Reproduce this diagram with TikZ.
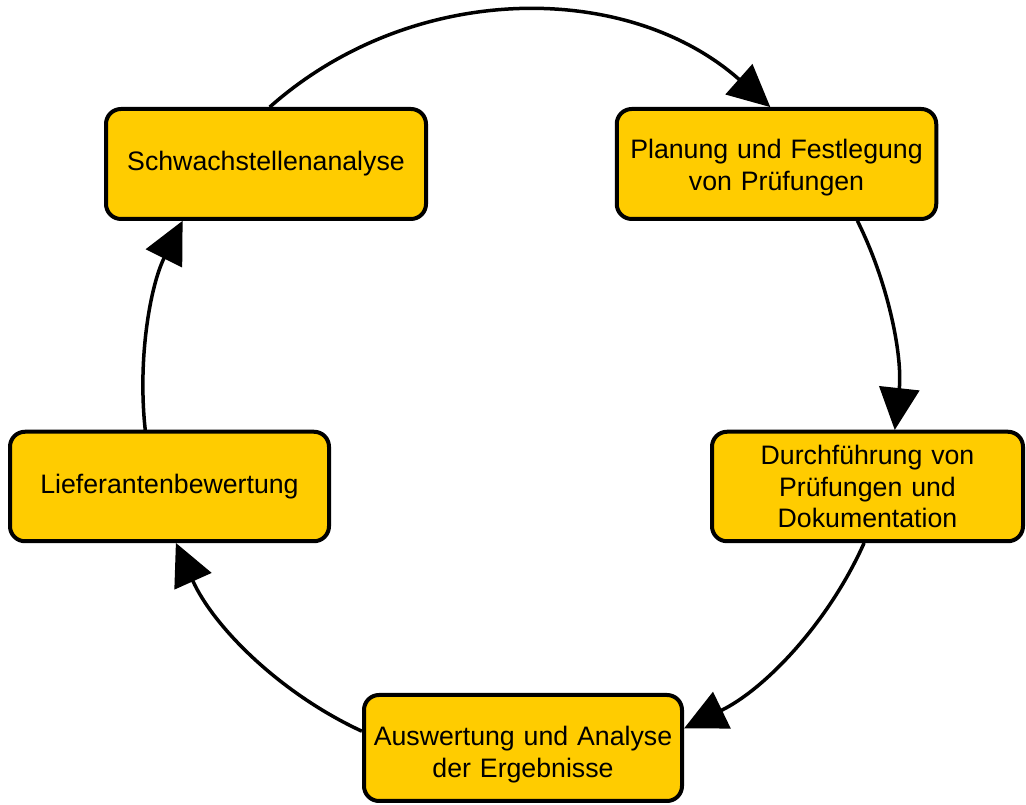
\documentclass[tikz,border=0pt]{standalone}
\usepackage{fontspec}
\setmainfont{Liberation Sans}
\usetikzlibrary{arrows.meta,calc}
\definecolor{boxfill}{HTML}{FFCC00}
\tikzset{
  stage/.style={draw=black, line width=4pt, fill=boxfill, rounded corners=15pt,
    align=center, inner sep=0pt, text width=300pt,
    font=\fontsize{26.7}{31.5}\selectfont},
  flow/.style={draw=black, line width=3.5pt,
    -{Triangle[length=42pt,width=40pt]}}
}
% taller strut for the first line, lowering the text block a little
\newcommand{\lowerby}[1]{\rule{0pt}{#1}}
\begin{document}
\begin{tikzpicture}[x=1pt,y=1pt]
  \useasboundingbox (0,0) rectangle (1026,805);

  % process stages
  \node[stage, minimum width=320pt, minimum height=110pt] (ana) at (266,641) {Schwachstellenanalyse};
  \node[stage, minimum width=319.5pt, minimum height=110pt] (plan) at (776.5,641) {\lowerby{27pt}Planung und Festlegung\\von Prüfungen};
  \node[stage, minimum width=311pt, minimum height=109.5pt] (exec) at (867.5,318.5) {Durchführung von\\Prüfungen und\\Dokumentation};
  \node[stage, minimum width=318pt, minimum height=106pt] (eval) at (523,57) {\lowerby{33pt}Auswertung und Analyse\\der Ergebnisse};
  \node[stage, minimum width=319pt, minimum height=109.5pt] (supp) at (169.5,318.5) {Lieferantenbewertung};

  % cycle centre and radius
  \coordinate (o) at (520,416);
  \def\R{377}

  % clockwise connectors along the cycle
  \coordinate (ana-out)  at ($(o)+(131.6:\R)$);
  \coordinate (plan-out) at ($(o)+(26.5:\R)$);
  \coordinate (exec-out) at ($(o)+(-24.1:\R)$);
  \coordinate (eval-out) at ($(o)+(-114.8:\R)$);
  \coordinate (supp-out) at ($(o)+(186.24:\R)$);

  \draw[flow] (ana-out)  arc[start angle=131.6,  end angle=48.4,   radius=\R];
  \draw[flow] (plan-out) arc[start angle=26.5,   end angle=-6.24,  radius=\R];
  \draw[flow] (exec-out) arc[start angle=-24.1,  end angle=-64.2,  radius=\R];
  \draw[flow] (eval-out) arc[start angle=-114.8, end angle=-155.9, radius=\R];
  \draw[flow] (supp-out) arc[start angle=186.24, end angle=153.5,  radius=\R];
\end{tikzpicture}
\end{document}
